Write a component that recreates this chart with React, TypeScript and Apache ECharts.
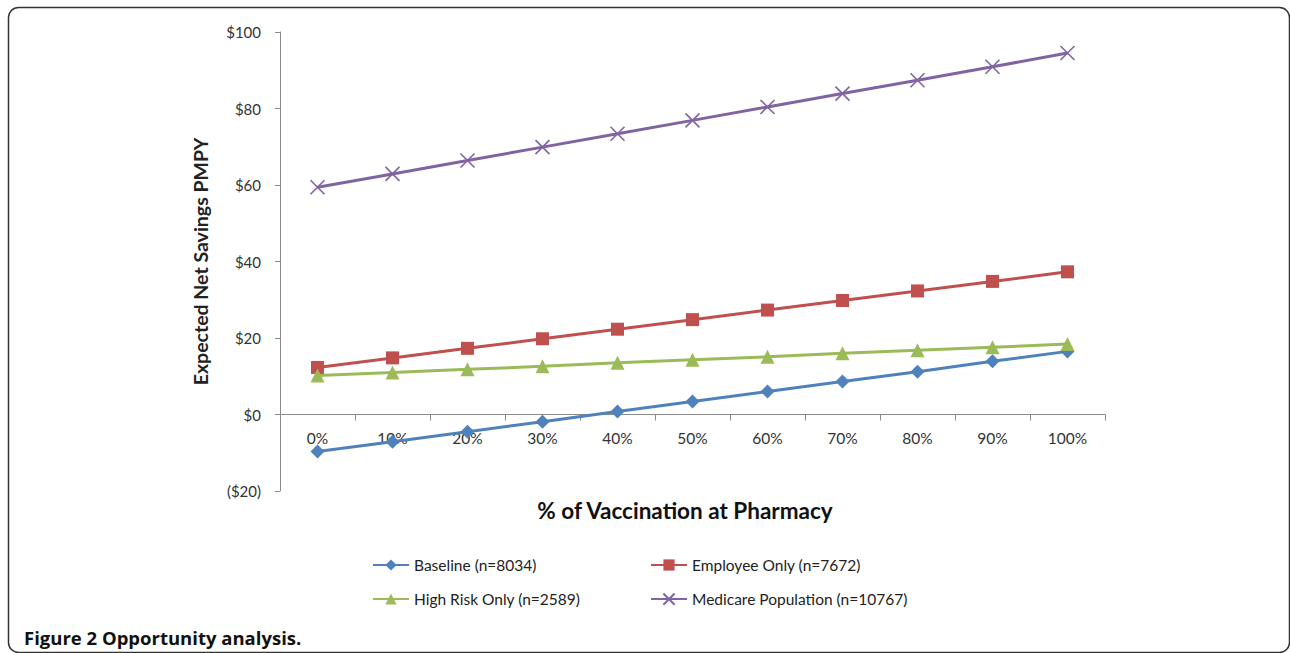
import React, { useEffect, useRef } from "react";
import * as echarts from "echarts";

const categories = ["0%", "10%", "20%", "30%", "40%", "50%", "60%", "70%", "80%", "90%", "100%"];
const baseline = [-9.7, -7.1, -4.5, -1.9, 0.8, 3.4, 6.0, 8.6, 11.2, 13.9, 16.5];
const employeeOnly = [12.3, 14.8, 17.3, 19.8, 22.3, 24.8, 27.3, 29.8, 32.3, 34.8, 37.3];
const highRiskOnly = [10.2, 11.0, 11.8, 12.6, 13.5, 14.3, 15.1, 16.0, 16.8, 17.6, 18.4];
const medicare = [59.4, 62.9, 66.4, 69.9, 73.4, 76.9, 80.4, 83.9, 87.4, 90.9, 94.5];
const seriesNames = [
  "Baseline (n=8034)",
  "Employee Only (n=7672)",
  "High Risk Only (n=2589)",
  "Medicare Population (n=10767)",
];

const FONT = "Lato, 'Open Sans', sans-serif";

export default function App() {
  const ref = useRef<HTMLDivElement>(null);
  useEffect(() => {
    if (!ref.current) return;
    const chart = echarts.init(ref.current, undefined, { renderer: "svg" });
    const colors = ["#4f81bd", "#c0504d", "#9bbb59", "#8064a2"];
    const legendPos = [
      { left: 372, top: 557 },
      { left: 650, top: 557 },
      { left: 372, top: 591 },
      { left: 650, top: 591 },
    ];
    const gridTop = 32;
    const gridBottom = 162;
    const yMin = -20;
    const yMax = 100;
    const plotH = 653 - gridTop - gridBottom;
    const zeroOffset = -((0 - yMin) / (yMax - yMin)) * plotH;
    chart.setOption({
      animation: false,
      backgroundColor: "#ffffff",
      grid: { left: 280, right: 185, top: gridTop, bottom: gridBottom },
      legend: seriesNames.map((n, i) => ({
        data: [n],
        left: legendPos[i].left,
        top: legendPos[i].top,
        itemWidth: 36,
        itemHeight: 14,
        padding: 0,
        textStyle: { fontFamily: FONT, fontSize: 15.5, color: "#222" },
      })),
      xAxis: {
        type: "category",
        data: categories,
        boundaryGap: true,
        position: "bottom",
        offset: zeroOffset,
        axisLine: { onZero: false, lineStyle: { color: "#8a8a8a", width: 1 } },
        axisTick: { show: true, length: 6, interval: 0, lineStyle: { color: "#8a8a8a" } },
        axisLabel: { fontFamily: FONT, fontSize: 15.5, color: "#333", margin: 15, interval: 0 },
        splitLine: { show: false },
      },
      yAxis: {
        type: "value",
        min: yMin,
        max: yMax,
        interval: 20,
        name: "Expected Net Savings PMPY",
        nameLocation: "middle",
        nameGap: 70,
        nameTextStyle: { fontFamily: FONT, fontSize: 19.5, fontWeight: "bold", color: "#222" },
        axisLine: { show: true, lineStyle: { color: "#8a8a8a", width: 1 } },
        axisTick: { show: true, length: 5, lineStyle: { color: "#8a8a8a" } },
        axisLabel: {
          fontFamily: FONT,
          fontSize: 15,
          color: "#333",
          margin: 19,
          formatter: (v: number) => (v < 0 ? `($${Math.abs(v)})` : `$${v}`),
        },
        splitLine: { show: false },
      },
      series: [
        {
          name: seriesNames[0],
          type: "line",
          data: baseline,
          symbol: "diamond",
          symbolSize: 14,
          lineStyle: { color: colors[0], width: 3 },
          itemStyle: { color: colors[0] },
        },
        {
          name: seriesNames[1],
          type: "line",
          data: employeeOnly,
          symbol: "rect",
          symbolSize: 13,
          lineStyle: { color: colors[1], width: 3 },
          itemStyle: { color: colors[1] },
        },
        {
          name: seriesNames[2],
          type: "line",
          data: highRiskOnly,
          symbol: "triangle",
          symbolSize: 14,
          lineStyle: { color: colors[2], width: 3 },
          itemStyle: { color: colors[2] },
        },
        {
          name: seriesNames[3],
          type: "line",
          data: medicare,
          symbol: "path://M0,0L10,10M10,0L0,10",
          symbolSize: 14,
          lineStyle: { color: colors[3], width: 3 },
          itemStyle: { color: "none", borderColor: colors[3], borderWidth: 1.6 },
        },
      ],
      graphic: [
        {
          type: "rect",
          shape: { x: 8.5, y: 7.5, width: 1281, height: 645, r: 10 },
          style: { fill: "none", stroke: "#333", lineWidth: 1.5 },
          silent: true,
        },
        {
          type: "text",
          x: 685,
          y: 510,
          style: {
            text: "% of Vaccination at Pharmacy",
            fontFamily: FONT,
            fontSize: 22.5,
            fontWeight: "bold",
            fill: "#111",
            align: "center",
            verticalAlign: "middle",
          },
        },
        {
          type: "text",
          x: 24,
          y: 637,
          style: {
            text: "Figure 2 Opportunity analysis.",
            fontFamily: "'Open Sans', sans-serif",
            fontSize: 18.5,
            fontWeight: "bold",
            fill: "#111",
            align: "left",
            verticalAlign: "middle",
          },
        },
      ],
    });
    return () => chart.dispose();
  }, []);
  return (
    <div
      ref={ref}
      style={{ position: "absolute", left: 0, top: 0, width: 1290, height: 653, background: "#fff" }}
    />
  );
}
